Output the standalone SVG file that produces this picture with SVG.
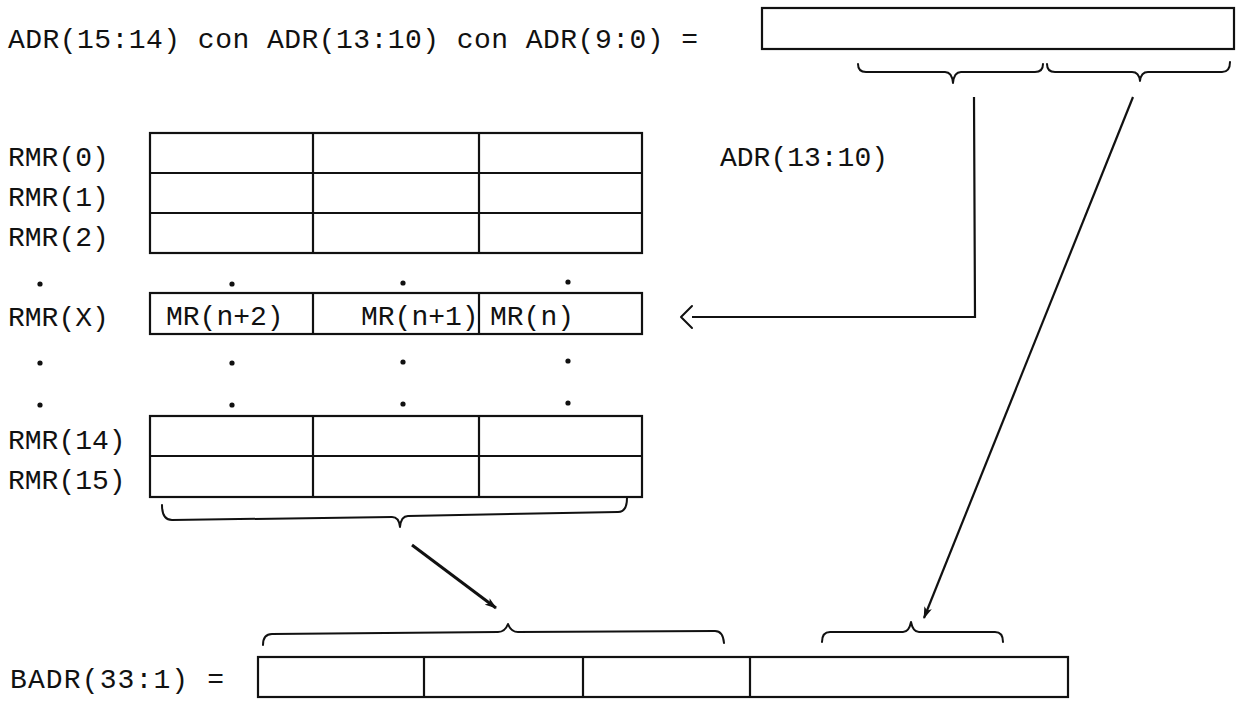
<svg xmlns="http://www.w3.org/2000/svg" width="1249" height="701" viewBox="0 0 1249 701">
<defs>
<style>
text{font-family:"Liberation Mono","DejaVu Sans Mono",monospace;font-size:28px;fill:#111}
.b{fill:none;stroke:#111;stroke-width:2.2}
.t{fill:none;stroke:#111;stroke-width:2;stroke-linecap:round;stroke-linejoin:round}
.d{fill:#111}
</style>
<marker id="ah" markerWidth="12" markerHeight="8" refX="11" refY="4" orient="auto" markerUnits="userSpaceOnUse"><path d="M0,0 L12,4 L0,8 L3,4 Z" fill="#111"/></marker>
</defs>
<rect width="1249" height="701" fill="#fff"/>

<g id="top-label"><text x="8" y="48" textLength="690" lengthAdjust="spacing">ADR(15:14) con ADR(13:10) con ADR(9:0) =</text></g>
<g id="adr-box">
<rect class="b" x="762" y="8" width="472" height="41"/>
<path class="t" d="M858,64 Q858,72 866,72 L945,72 Q952,72 953,83 Q954,72 961,72 L1035,72 Q1043,72 1043,64"/>
<path class="t" d="M1047,64 Q1047,72 1055,72 L1132,72 Q1139,72 1140,81 Q1141,72 1148,72 L1222,72 Q1230,72 1230,62"/>
</g>
<g id="adr1310-label"><text x="720" y="166">ADR(13:10)</text></g>

<g id="rmr-table">
<rect class="b" x="150" y="133" width="492" height="120"/>
<line class="b" x1="150" y1="173" x2="642" y2="173"/>
<line class="b" x1="150" y1="213" x2="642" y2="213"/>
<line class="b" x1="313" y1="133" x2="313" y2="253"/>
<line class="b" x1="479" y1="133" x2="479" y2="253"/>
<rect class="b" x="150" y="293" width="492" height="41"/>
<line class="b" x1="313" y1="293" x2="313" y2="334"/>
<line class="b" x1="479" y1="293" x2="479" y2="334"/>
<rect class="b" x="150" y="416" width="492" height="81"/>
<line class="b" x1="150" y1="456" x2="642" y2="456"/>
<line class="b" x1="313" y1="416" x2="313" y2="497"/>
<line class="b" x1="479" y1="416" x2="479" y2="497"/>
<text x="166" y="325">MR(n+2)</text>
<text x="361" y="325">MR(n+1)</text>
<text x="490" y="325">MR(n)</text>
<path class="t" d="M162,505 Q162,520 172,520 L392,517 Q399,517 400,527 Q401,516 408,516 L618,512 Q627,512 627,498"/>
</g>
<g id="rmr-labels">
<text x="8" y="166">RMR(0)</text>
<text x="8" y="206">RMR(1)</text>
<text x="8" y="246">RMR(2)</text>
<text x="8" y="326">RMR(X)</text>
<text x="8" y="449">RMR(14)</text>
<text x="8" y="489">RMR(15)</text>
</g>
<g id="dots">
<circle class="d" cx="40" cy="284" r="2.6"/><circle class="d" cx="232" cy="284" r="2.6"/><circle class="d" cx="403" cy="283" r="2.6"/><circle class="d" cx="568" cy="282" r="2.6"/>
<circle class="d" cx="40" cy="363" r="2.6"/><circle class="d" cx="232" cy="363" r="2.6"/><circle class="d" cx="403" cy="362" r="2.6"/><circle class="d" cx="568" cy="361" r="2.6"/>
<circle class="d" cx="40" cy="405" r="2.6"/><circle class="d" cx="232" cy="405" r="2.6"/><circle class="d" cx="403" cy="404" r="2.6"/><circle class="d" cx="568" cy="403" r="2.6"/>
</g>

<g id="badr">
<text x="10" y="688" textLength="214" lengthAdjust="spacing">BADR(33:1) =</text>
<rect class="b" x="258" y="657" width="810" height="40"/>
<line class="b" x1="424" y1="657" x2="424" y2="697"/>
<line class="b" x1="583" y1="657" x2="583" y2="697"/>
<line class="b" x1="750" y1="657" x2="750" y2="697"/>
<path class="t" d="M263,645 Q263,634 272,634 L498,632 Q505,632 508,624 Q511,632 518,632 L715,631 Q723,631 724,643"/>
<path class="t" d="M822,642 Q822,632 830,632 L903,632 Q909,632 911,622 Q913,632 919,632 L995,632 Q1003,632 1003,642"/>
</g>

<g id="connectors">
<path class="b" d="M974,97 L975,317 L692,317"/>
<path class="t" d="M692,306 L681,317 L692,328"/>
<line class="b" x1="1133" y1="97" x2="924" y2="618" marker-end="url(#ah)"/>
<line x1="412" y1="545" x2="496" y2="608" stroke="#111" stroke-width="3" marker-end="url(#ah)"/>
</g>
</svg>
